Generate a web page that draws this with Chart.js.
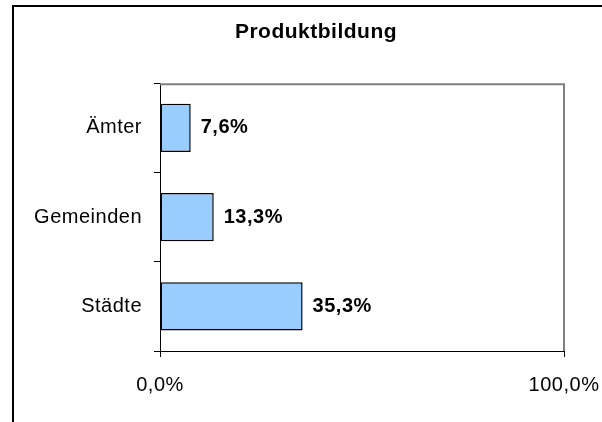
<!DOCTYPE html>
<html>
<head>
<meta charset="utf-8">
<title>Produktbildung</title>
<script src="https://cdn.jsdelivr.net/npm/chart.js@4.4.1/dist/chart.umd.min.js"></script>
<style>
  html, body { margin: 0; padding: 0; background: #fff; overflow: hidden; }
  body { width: 602px; height: 422px; position: relative; }
  #frame { position: absolute; left: 12px; top: 5px; width: 700px; height: 600px; border: 2px solid #000; }
  #chart-wrap { position: absolute; left: 0; top: 0; width: 632px; height: 422px; }
</style>
</head>
<body>
<div id="frame"></div>
<div id="chart-wrap"><canvas id="chart" width="632" height="422"></canvas></div>
<script>
// Produktbildung - share per type of municipality

const chartTitle = 'Produktbildung';
const categories = ['Ämter', 'Gemeinden', 'Städte'];
const shares = [7.6, 13.3, 35.3];
const xTickValues = [0, 100];
const xTickLabels = ['0,0%', '100,0%'];

const FONT = '"Liberation Sans", Arial, sans-serif';

// the original text is set a little wider than plain Arial
const letterSpacing = {
  id: 'letterSpacing',
  beforeUpdate(chart) {
    chart.ctx.letterSpacing = '0.5px';
  }
};

// grey frame on top and right of the plot area
const plotFrame = {
  id: 'plotFrame',
  beforeDatasetsDraw(chart) {
    const { ctx, chartArea: a } = chart;
    ctx.save();
    ctx.strokeStyle = '#808080';
    ctx.lineWidth = 2;
    ctx.beginPath();
    ctx.moveTo(a.left, a.top + 1);
    ctx.lineTo(a.right, a.top + 1);
    ctx.lineTo(a.right, a.bottom);
    ctx.stroke();
    ctx.restore();
  }
};

const valueLabels = {
  id: 'valueLabels',
  afterDatasetsDraw(chart) {
    const { ctx } = chart;
    const meta = chart.getDatasetMeta(0);
    ctx.save();
    ctx.font = 'bold 20px ' + FONT;
    ctx.fillStyle = '#000';
    ctx.textAlign = 'left';
    ctx.textBaseline = 'middle';
    meta.data.forEach((bar, i) => {
      ctx.fillText(shares[i].toFixed(1).replace('.', ',') + '%', bar.x + 10, bar.y);
    });
    ctx.restore();
  }
};

Chart.defaults.font.family = FONT;
Chart.defaults.font.size = 20;
Chart.defaults.color = '#000';

new Chart(document.getElementById('chart'), {
  type: 'bar',
  data: {
    labels: categories,
    datasets: [{
      data: shares,
      backgroundColor: '#99CCFF',
      borderColor: '#000',
      borderWidth: 1.5,
      borderSkipped: false,
      barPercentage: 0.54,
      categoryPercentage: 1
    }]
  },
  options: {
    indexAxis: 'y',
    responsive: false,
    animation: false,
    layout: {
      padding: { top: 0, left: 0, right: 0, bottom: 9 }
    },
    plugins: {
      legend: { display: false },
      tooltip: { enabled: false },
      title: {
        display: true,
        text: chartTitle,
        color: '#000',
        font: { size: 21, weight: 'bold' },
        padding: { top: 20, bottom: 38 }
      }
    },
    scales: {
      x: {
        type: 'linear',
        min: 0,
        max: 100,
        afterBuildTicks(scale) {
          scale.ticks = xTickValues.map(v => ({ value: v }));
        },
        ticks: {
          padding: 16,
          color: '#000',
          maxRotation: 0,
          callback: (value, i) => xTickLabels[i]
        },
        grid: {
          drawOnChartArea: false,
          drawTicks: true,
          tickLength: 6,
          color: '#000'
        },
        border: { color: '#000', width: 1 }
      },
      y: {
        afterFit(scale) {
          scale.width = 160;
        },
        ticks: {
          padding: 12,
          color: '#000'
        },
        grid: {
          offset: true,
          drawOnChartArea: false,
          drawTicks: true,
          tickLength: 6,
          color: '#000'
        },
        border: { color: '#000', width: 1 }
      },
      // empty right-hand box, keeps the plot narrower than the title line
      yRight: {
        type: 'linear',
        axis: 'y',
        position: 'right',
        afterFit(scale) {
          scale.width = 68;
        },
        ticks: { display: false },
        grid: { display: false },
        border: { display: false }
      }
    }
  },
  plugins: [letterSpacing, plotFrame, valueLabels]
});
</script>
</body>
</html>
